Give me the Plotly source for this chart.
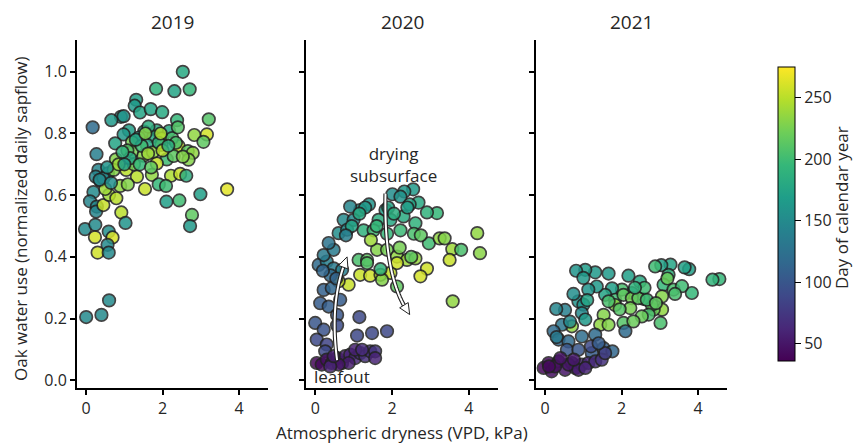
import plotly.graph_objects as go
import numpy as np

# ---------------- data (VPD kPa, normalized sapflow, day of year) ----------------
vpd_2019 = [2.53,1.83,2.31,2.71,1.31,1.27,1.41,1.69,1.99,0.91,0.98,0.66,0.17,2.38,3.21,1.12,1.52,1.85,2.17,0.98,
            1.38,1.76,1.98,2.83,3.16,3.07,0.76,1.20,1.59,1.97,2.42,2.66,2.79,2.68,0.78,1.20,1.50,1.75,2.11,2.29,
            2.53,0.27,0.32,0.25,0.57,0.37,0.72,1.05,1.33,1.72,1.85,2.22,2.46,2.62,0.19,0.10,0.28,0.26,0.45,0.60,
            0.79,0.89,1.09,1.54,1.90,2.09,2.10,2.44,2.99,3.69,2.77,2.72,0.92,1.03,-0.03,0.24,0.23,0.59,0.69,0.30,
            0.56,0.59,0.00,0.40,0.60,1.63,1.45,1.08,1.25,1.62,1.90,2.25,0.45,0.55,0.85,1.15,1.40,1.70,2.00,2.35,
            0.50,0.35,1.30,1.95,2.40,0.95,1.55,2.15,0.65,1.00]
sap_2019 = [1.000,0.945,0.937,0.943,0.909,0.890,0.868,0.879,0.869,0.854,0.856,0.843,0.820,0.843,0.846,0.810,0.806,0.810,0.808,0.797,
            0.787,0.790,0.784,0.795,0.797,0.773,0.768,0.772,0.763,0.763,0.759,0.743,0.737,0.715,0.716,0.740,0.728,0.739,0.716,0.727,
            0.725,0.733,0.682,0.660,0.671,0.647,0.682,0.682,0.660,0.666,0.703,0.663,0.669,0.663,0.610,0.580,0.563,0.547,0.568,0.601,
            0.590,0.630,0.635,0.620,0.635,0.630,0.579,0.583,0.603,0.619,0.536,0.500,0.544,0.510,0.490,0.504,0.464,0.482,0.463,0.414,
            0.439,0.414,0.205,0.212,0.259,0.822,0.760,0.745,0.700,0.735,0.770,0.785,0.655,0.690,0.700,0.720,0.700,0.690,0.745,0.770,
            0.620,0.650,0.780,0.800,0.820,0.740,0.800,0.760,0.640,0.700]
doy_2019 = [180,190,175,195,170,165,175,175,180,160,160,165,120,195,210,170,175,180,180,165,
            175,180,240,235,260,215,175,225,180,245,255,215,235,230,230,225,230,235,200,215,
            230,140,145,145,150,145,230,250,250,235,255,245,255,185,150,145,150,145,255,240,
            250,235,230,255,195,200,170,200,170,265,215,165,250,160,150,150,260,155,262,258,
            150,150,150,150,150,185,200,210,225,240,190,205,150,160,240,180,195,215,250,205,
            240,150,175,245,210,190,230,185,155,170]

vpd_2020 = [2.55,2.32,2.01,2.22,2.69,2.46,1.40,1.17,0.91,0.74,0.61,0.83,3.17,2.91,1.83,1.65,1.96,2.30,2.61,1.26,
            1.52,1.87,2.22,2.57,2.96,3.24,3.37,3.57,3.80,4.22,4.29,3.50,2.91,2.74,3.58,1.13,1.35,1.61,1.87,2.13,
            2.39,2.61,1.17,1.43,1.70,1.96,2.13,0.87,0.61,2.13,1.74,0.09,0.30,0.48,0.22,0.48,0.35,0.70,0.22,0.43,
            0.13,0.35,0.65,0.57,0.00,0.22,0.04,0.30,0.57,0.26,1.15,1.09,1.48,1.87,0.04,0.17,0.30,0.43,0.57,0.70,
            0.78,0.91,1.04,1.17,1.30,1.43,1.56,1.56,0.87,1.04,1.22,0.61,0.39,0.48,1.00,1.30,1.90,2.40,2.05,1.60,
            0.95,1.15,2.75,2.20,1.45,0.40,0.20,0.55,0.80,1.70,2.50,1.35]
sap_2020 = [0.619,0.612,0.603,0.595,0.576,0.570,0.570,0.552,0.563,0.520,0.477,0.488,0.542,0.544,0.552,0.520,0.520,0.531,0.509,0.486,
            0.486,0.475,0.486,0.475,0.444,0.460,0.460,0.425,0.423,0.477,0.412,0.390,0.362,0.337,0.256,0.390,0.390,0.423,0.423,0.401,
            0.390,0.395,0.342,0.339,0.342,0.348,0.380,0.310,0.321,0.304,0.326,0.374,0.385,0.363,0.406,0.423,0.445,0.358,0.293,0.299,
            0.250,0.239,0.261,0.212,0.186,0.164,0.132,0.116,0.178,0.094,0.205,0.145,0.153,0.159,0.056,0.051,0.067,0.056,0.072,0.056,
            0.078,0.083,0.072,0.088,0.078,0.094,0.094,0.072,0.056,0.099,0.099,0.051,0.045,0.078,0.520,0.560,0.560,0.560,0.540,0.500,
            0.500,0.540,0.470,0.430,0.455,0.340,0.355,0.330,0.470,0.360,0.400,0.380]
doy_2020 = [165,162,155,158,180,175,160,158,145,150,155,152,195,190,170,185,178,182,190,190,
            200,195,198,205,200,235,230,240,205,235,232,255,258,260,235,205,215,230,225,235,
            240,238,255,258,255,255,258,255,255,215,230,120,140,135,135,135,128,138,110,115,
            105,108,105,100,100,98,90,85,92,88,90,88,88,88,40,42,45,48,50,52,
            55,60,62,65,68,70,72,60,55,58,65,50,60,55,150,165,175,170,185,195,
            175,180,215,225,240,118,115,112,140,190,215,210]

vpd_2021 = [4.56,4.38,3.77,3.65,3.84,3.28,3.04,2.88,3.23,3.10,3.36,3.58,3.06,3.06,2.84,3.02,2.79,2.57,2.48,2.18,
            2.27,2.01,1.75,1.57,1.83,2.05,2.27,2.44,2.66,2.71,2.53,2.23,2.05,1.83,2.31,1.66,1.53,1.44,1.66,1.35,
            1.66,1.31,1.05,0.81,1.00,1.13,0.87,0.74,1.00,0.96,0.70,1.05,0.52,0.29,0.44,0.22,0.35,0.61,0.96,1.31,
            0.57,0.87,1.22,1.53,1.76,2.10,-0.04,0.09,0.17,0.35,0.52,0.70,0.79,0.96,1.13,1.31,1.48,1.57,0.26,0.61,
            0.87,1.05,0.10,0.40,0.75,1.20,1.40,2.60,2.90,3.40,0.30,0.65,1.10,1.95,2.35,3.20]
sap_2021 = [0.328,0.326,0.360,0.366,0.283,0.375,0.373,0.369,0.342,0.310,0.294,0.305,0.272,0.229,0.229,0.186,0.245,0.264,0.320,0.339,
            0.283,0.294,0.298,0.277,0.261,0.277,0.266,0.266,0.261,0.213,0.207,0.234,0.186,0.244,0.191,0.256,0.212,0.180,0.180,0.304,
            0.346,0.350,0.358,0.355,0.332,0.294,0.256,0.280,0.245,0.218,0.175,0.197,0.228,0.231,0.180,0.159,0.132,0.126,0.142,0.148,
            0.099,0.099,0.088,0.104,0.094,0.159,0.040,0.056,0.029,0.061,0.034,0.056,0.040,0.051,0.056,0.061,0.067,0.088,0.045,0.051,
            0.034,0.040,0.045,0.072,0.067,0.110,0.120,0.300,0.250,0.280,0.140,0.190,0.260,0.230,0.300,0.330]
doy_2021 = [195,192,170,172,195,175,172,200,190,195,205,200,230,235,220,205,215,200,180,170,
            170,205,170,175,200,215,225,215,200,205,220,225,210,235,220,205,230,235,230,165,
            165,165,168,160,165,160,158,155,160,150,235,165,140,145,130,120,115,118,122,120,
            100,100,105,110,115,120,40,42,45,48,50,55,58,60,62,65,70,80,45,50,
            55,60,42,48,52,90,105,200,215,205,135,150,175,210,190,220]

years = ["2019", "2020", "2021"]
vpd_all = [vpd_2019, vpd_2020, vpd_2021]
sap_all = [sap_2019, sap_2020, sap_2021]
doy_all = [doy_2019, doy_2020, doy_2021]

xticks = [0, 2, 4]
yticks = [0.0, 0.2, 0.4, 0.6, 0.8, 1.0]
cbar_ticks = [50, 100, 150, 200, 250]

CMIN, CMAX = 36, 275
FONT = "Open Sans"
TXT = "#262626"
TICK_SIZE = 16
LABEL_SIZE = 17
TITLE_SIZE = 19

W, H = 854, 444
dom_x = [(77 / W, 268 / W), (306 / W, 498 / W), (536 / W, 727 / W)]
dom_y = (1 - 388 / H, 1 - 40 / H)
XR = [-0.24, 4.76]
YR = [-0.025, 1.103]

fig = go.Figure()
for i in range(3):
    sfx = "" if i == 0 else str(i + 1)
    fig.add_trace(go.Scatter(
        x=vpd_all[i], y=sap_all[i], mode="markers",
        xaxis="x" + sfx, yaxis="y" + sfx,
        marker=dict(size=12.5, color=doy_all[i], colorscale="Viridis", cmin=CMIN, cmax=CMAX,
                    opacity=0.85, line=dict(color="#222222", width=1.7),
                    showscale=(i == 0),
                    colorbar=dict(thickness=17, len=314 / H, lenmode="fraction",
                                  x=768 / W, xanchor="left", xref="paper",
                                  y=1 - 57 / H, yanchor="top", yref="paper",
                                  outlinewidth=1, outlinecolor="black",
                                  tickvals=cbar_ticks, ticks="outside", ticklen=6,
                                  tickcolor="black",
                                  tickfont=dict(family=FONT, size=TICK_SIZE, color=TXT))),
        showlegend=False, hoverinfo="skip"))

axcommon = dict(showgrid=False, zeroline=False, showline=True, linecolor="black", linewidth=2,
                ticks="outside", ticklen=5, tickwidth=1.5, tickcolor="black",
                tickfont=dict(family=FONT, size=TICK_SIZE, color=TXT))
for i in range(3):
    sfx = "" if i == 0 else str(i + 1)
    fig.layout["xaxis" + sfx] = dict(domain=dom_x[i], range=XR, tickvals=xticks,
                                     anchor="y" + sfx, **axcommon)
    fig.layout["yaxis" + sfx] = dict(domain=dom_y, range=YR, tickvals=yticks,
                                     tickformat=".1f", showticklabels=(i == 0),
                                     anchor="x" + sfx, **axcommon)

# panel titles
for i, yr in enumerate(years):
    fig.add_annotation(text=yr, x=(dom_x[i][0] + dom_x[i][1]) / 2, y=1 - 22 / H,
                       xref="paper", yref="paper", showarrow=False,
                       xanchor="center", yanchor="middle",
                       font=dict(family=FONT, size=TITLE_SIZE, color=TXT))

fig.add_annotation(text="Atmospheric dryness (VPD, kPa)", x=402 / W, y=1 - 432 / H,
                   xref="paper", yref="paper", showarrow=False,
                   xanchor="center", yanchor="middle",
                   font=dict(family=FONT, size=LABEL_SIZE, color=TXT))
fig.add_annotation(text="Oak water use (normalized daily sapflow)", x=21 / W, y=1 - 219 / H,
                   xref="paper", yref="paper", showarrow=False, textangle=-90,
                   xanchor="center", yanchor="middle",
                   font=dict(family=FONT, size=LABEL_SIZE, color=TXT))
fig.add_annotation(text="Day of calendar year", x=841 / W, y=1 - 208 / H,
                   xref="paper", yref="paper", showarrow=False, textangle=-90,
                   xanchor="center", yanchor="middle",
                   font=dict(family=FONT, size=LABEL_SIZE, color=TXT))

# ---- curved arrows in 2020 panel ----
px_x = (dom_x[1][1] - dom_x[1][0]) * W / (XR[1] - XR[0])
px_y = (dom_y[1] - dom_y[0]) * H / (YR[1] - YR[0])


def bez(p0, c, p1, n=30):
    t = np.linspace(0, 1, n)[:, None]
    p0, c, p1 = map(np.array, (p0, c, p1))
    return (1 - t) ** 2 * p0 + 2 * (1 - t) * t * c + t ** 2 * p1


def add_curved_arrow(p0, c, p1, head_len=11, head_w=5):
    pts = bez(p0, c, p1)
    pp = np.column_stack([pts[:, 0] * px_x, pts[:, 1] * px_y])
    tip = pp[-1]
    d = tip - pp[-5]
    d = d / np.linalg.norm(d)
    n = np.array([-d[1], d[0]])
    base = tip - d * head_len
    keep = np.linalg.norm(pp - tip, axis=1) > head_len
    shaft = np.vstack([pp[keep], base])
    sd = shaft / [px_x, px_y]
    path = "M " + " L ".join(f"{a:.4f},{b:.4f}" for a, b in sd)
    for col, wd in (("#222222", 4.2), ("white", 2.0)):
        fig.add_shape(type="path", path=path, xref="x2", yref="y2",
                      line=dict(color=col, width=wd), layer="above")
    h1 = (base + n * head_w) / [px_x, px_y]
    h2 = (base - n * head_w) / [px_x, px_y]
    tp = tip / [px_x, px_y]
    hp = f"M {h1[0]:.4f},{h1[1]:.4f} L {tp[0]:.4f},{tp[1]:.4f} L {h2[0]:.4f},{h2[1]:.4f} Z"
    fig.add_shape(type="path", path=hp, xref="x2", yref="y2",
                  fillcolor="white", line=dict(color="#222222", width=1), layer="above")


add_curved_arrow((0.57, 0.065), (0.36, 0.26), (0.83, 0.40))
add_curved_arrow((1.83, 0.605), (1.78, 0.33), (2.46, 0.213))

fig.add_annotation(text="drying<br>subsurface", x=2.04, y=0.70, xref="x2", yref="y2",
                   showarrow=False, xanchor="center", yanchor="middle",
                   font=dict(family=FONT, size=LABEL_SIZE, color=TXT))
fig.add_annotation(text="leafout", x=0.71, y=0.012, xref="x2", yref="y2",
                   showarrow=False, xanchor="center", yanchor="middle",
                   font=dict(family=FONT, size=LABEL_SIZE, color=TXT))

fig.update_layout(width=W, height=H, margin=dict(l=0, r=0, t=0, b=0, autoexpand=False),
                  plot_bgcolor="white", paper_bgcolor="white",
                  font=dict(family=FONT, color=TXT))
fig.write_html("out.html")
